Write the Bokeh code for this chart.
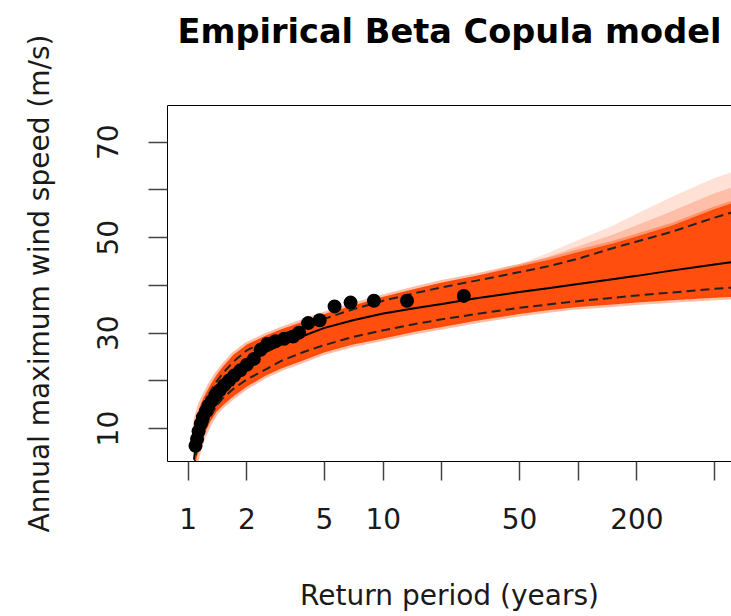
from bokeh.plotting import figure
from bokeh.models import Range1d, FixedTicker, LogAxis
from bokeh.embed import file_html
from bokeh.resources import INLINE

# ---- data ----
T = [1.07, 1.1, 1.15, 1.2, 1.3, 1.4, 1.5, 1.7, 2, 2.5, 3, 4, 5, 7, 10, 15, 20, 30,
     50, 70, 100, 150, 200, 300, 500, 700]
median = [3.5, 7.3, 10.0, 12.0, 15.0, 17.2, 18.8, 21.2, 23.5, 26.0, 27.6, 29.6, 31.1,
          32.7, 34.1, 35.3, 36.1, 37.3, 38.6, 39.4, 40.3, 41.3, 42.0, 43.1, 44.4, 45.2]
band_hi = [8.0, 12.0, 14.8, 16.5, 19.2, 21.3, 22.9, 25.4, 27.6, 29.5, 30.8, 32.6, 34.0,
           35.8, 37.6, 39.4, 40.6, 42.0, 44.0, 45.3, 47.0, 48.8, 50.3, 52.5, 56.0, 58.0]
band_lo = [0.5, 3.5, 6.5, 8.5, 11.5, 13.6, 14.8, 16.7, 18.8, 21.1, 22.6, 24.5, 26.0,
           27.6, 28.9, 30.4, 31.3, 32.6, 34.0, 34.8, 35.5, 36.0, 36.4, 36.9, 37.4, 37.7]
ci_hi = [6.0, 10.5, 13.2, 15.0, 17.8, 19.9, 21.5, 24.0, 26.4, 28.4, 29.7, 31.4, 33.0,
         35.0, 36.8, 38.5, 39.6, 41.0, 42.8, 44.0, 45.6, 47.8, 49.2, 51.2, 54.2, 56.0]
ci_lo = [1.5, 5.0, 7.5, 9.5, 12.5, 14.8, 16.3, 18.3, 20.3, 22.4, 24.2, 26.2, 27.5,
         29.2, 30.6, 32.0, 32.9, 34.0, 35.3, 36.0, 36.7, 37.4, 37.9, 38.5, 39.3, 39.7]

T_outer = [30, 50, 70, 100, 150, 200, 300, 500, 700]
outer_base = [42.0, 44.0, 45.3, 47.0, 48.8, 50.3, 52.5, 56.0, 58.0]
outer_mid = [42.0, 44.2, 46.0, 48.2, 50.6, 52.6, 55.5, 59.3, 61.3]
outer_hi = [42.0, 44.5, 46.8, 49.5, 52.5, 55.0, 58.5, 62.5, 64.5]

obs_T = [1.09, 1.11, 1.13, 1.16, 1.19, 1.23, 1.27, 1.32, 1.38, 1.45, 1.53, 1.62, 1.72,
         1.85, 2.0, 2.17, 2.35, 2.55, 2.8, 3.1, 3.45, 3.7, 4.12, 4.72, 5.63, 6.8, 8.96,
         13.25, 25.9]
obs_v = [6.4, 7.8, 9.4, 11.0, 12.4, 13.6, 14.8, 15.8, 16.9, 18.0, 19.1, 20.1, 21.1,
         22.2, 23.4, 24.6, 26.5, 27.8, 28.3, 28.8, 29.3, 30.1, 32.1, 32.7, 35.6, 36.4,
         36.8, 36.8, 37.8]

x_ticks = [1, 2, 5, 10, 20, 50, 100, 200, 500]
x_labels = {1: "1", 2: "2", 5: "5", 10: "10", 20: "", 50: "50", 100: "", 200: "200", 500: ""}
y_ticks = [10, 20, 30, 40, 50, 60, 70]
y_labels = {10: "10", 20: "", 30: "30", 40: "", 50: "50", 60: "", 70: "70"}

TITLE = "Empirical Beta Copula model"
FONT = "DejaVu Sans"
ORANGE = "#FF4500"
Y_LO, Y_HI = 3.1, 77.7

p = figure(width=731, height=616, x_axis_type="log",
           x_range=Range1d(0.783, 611), y_range=Range1d(Y_LO, Y_HI),
           output_backend="svg", toolbar_location=None,
           min_border_left=167, min_border_right=0, min_border_top=105,
           min_border_bottom=155)
p.outline_line_color = None
p.background_fill_color = "white"
p.border_fill_color = "white"
p.xgrid.visible = False
p.ygrid.visible = False

xb = p.below[0]
yl = p.left[0]

# light fan of simulated curves at the upper right
p.varea(x=T_outer, y1=outer_base, y2=outer_hi, fill_color=ORANGE, fill_alpha=0.16)
p.varea(x=T_outer, y1=outer_base, y2=outer_mid, fill_color=ORANGE, fill_alpha=0.22)
# dense band of simulated curves
p.varea(x=T, y1=band_lo, y2=band_hi, fill_color=ORANGE, fill_alpha=0.95)
p.line(T, band_hi, line_color=ORANGE, line_width=5, line_alpha=0.35)
p.line(T, band_lo, line_color=ORANGE, line_width=5, line_alpha=0.35)

p.line(T, median, line_color="black", line_width=2)
p.line(T, ci_hi, line_color="#222222", line_width=2, line_dash="9 5")
p.line(T, ci_lo, line_color="#222222", line_width=2, line_dash="9 5")

p.scatter(obs_T, obs_v, size=14, fill_color="black", line_color=None)

# top axis: draws the upper border of the box and carries the title
top = LogAxis(ticker=FixedTicker(ticks=[]), axis_line_color="black", axis_line_width=1,
              major_tick_line_color=None, minor_tick_line_color=None,
              major_label_text_font_size="0px",
              axis_label=TITLE, axis_label_text_font=FONT,
              axis_label_text_font_size="33.6px", axis_label_text_font_style="bold",
              axis_label_text_color="black", axis_label_standoff=55)
p.add_layout(top, "above")

for ax in (xb, yl):
    ax.axis_line_color = "black"
    ax.axis_line_width = 1
    ax.major_tick_line_color = "#444444"
    ax.major_tick_line_width = 1.5
    ax.major_tick_out = 19
    ax.major_tick_in = 0
    ax.minor_tick_line_color = None
    ax.major_label_text_font = FONT
    ax.major_label_text_font_size = "28px"
    ax.major_label_text_color = "#1a1a1a"
    ax.axis_label_text_font = FONT
    ax.axis_label_text_font_size = "28px"
    ax.axis_label_text_font_style = "normal"
    ax.axis_label_text_color = "#1a1a1a"

xb.ticker = FixedTicker(ticks=x_ticks)
xb.major_label_overrides = x_labels
xb.axis_label = "Return period (years)"
xb.major_label_standoff = 27
xb.axis_label_standoff = 47

yl.ticker = FixedTicker(ticks=y_ticks)
yl.major_label_overrides = y_labels
yl.major_label_orientation = "parallel"
yl.axis_label = "Annual maximum wind speed (m/s)"
yl.major_label_standoff = 30
yl.axis_label_standoff = 39

open("out.html", "w").write(file_html(p, INLINE))
